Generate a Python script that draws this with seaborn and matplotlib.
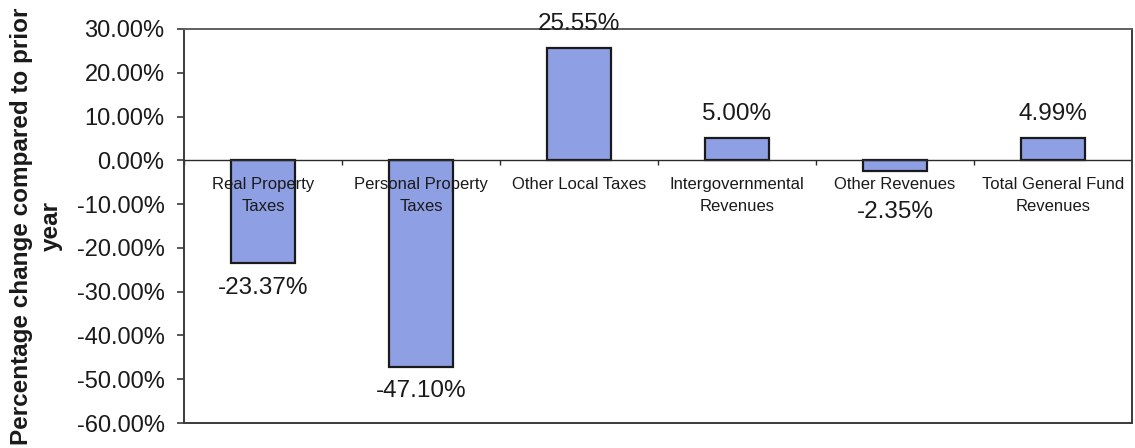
import matplotlib
matplotlib.use("Agg")
import matplotlib.pyplot as plt
from matplotlib.ticker import FixedLocator, FuncFormatter
import seaborn as sns
import pandas as pd

# Revenue categories and their percentage change versus the prior year
categories = [
    "Real Property\nTaxes",
    "Personal Property\nTaxes",
    "Other Local Taxes",
    "Intergovernmental\nRevenues",
    "Other Revenues",
    "Total General Fund\nRevenues",
]
pct_change = [-23.37, -47.10, 25.55, 5.00, -2.35, 4.99]
y_ticks = [30, 20, 10, 0, -10, -20, -30, -40, -50, -60]

sns.set_theme(style="white")
plt.rcParams["font.family"] = ["Liberation Sans", "DejaVu Sans"]

df = pd.DataFrame({"category": categories, "change": pct_change})

fig = plt.figure(figsize=(11.35, 4.48), dpi=100)
ax = fig.add_axes([0.1621, 0.0558, 0.9974 - 0.1621, 0.9353 - 0.0558])

sns.barplot(data=df, x="category", y="change", color="#8E9FE4",
            width=0.4, edgecolor="#1a1a1a", linewidth=1.6, saturation=1, ax=ax)

n = len(categories)
ax.set_xlim(-0.5, n - 0.5)
ax.set_ylim(min(y_ticks), max(y_ticks))

# Frame
for side in ["left", "right", "top", "bottom"]:
    ax.spines[side].set_visible(True)
    ax.spines[side].set_color("#3a3a3a")
    ax.spines[side].set_linewidth(1.4)
ax.spines["top"].set_color("#606060")

# Y axis in percent
ax.yaxis.set_major_locator(FixedLocator(y_ticks))
ax.yaxis.set_major_formatter(FuncFormatter(lambda v, p: f"{v:.2f}%"))
ax.tick_params(axis="y", which="major", direction="out", length=5, width=1.2,
               color="#3a3a3a", left=True, labelsize=17, pad=9, labelcolor="#1a1a1a")
ax.set_ylabel("Percentage change compared to prior\nyear", fontsize=17.5,
              fontweight="bold", color="#1a1a1a", labelpad=10, linespacing=1.35)

# Main x axis carries no ticks; the category axis sits on the zero line
ax.set_xlabel("")
ax.tick_params(axis="x", which="both", bottom=False, labelbottom=False)
ax.axhline(0, color="#2a2a2a", lw=1.0, zorder=1)

# Small boundary ticks between categories along the zero line
tick_len = (max(y_ticks) - min(y_ticks)) * 0.011
ax.vlines([i - 0.5 for i in range(n + 1)], -tick_len, 0, color="#2a2a2a", lw=1.0)

# Category names just below the zero line
for i, name in enumerate(categories):
    ax.annotate(name, xy=(i, 0), xytext=(0, -12), textcoords="offset points",
                ha="center", va="top", fontsize=12, color="#1a1a1a",
                linespacing=1.55, zorder=5)

# Value labels at the bar ends; a short negative bar gets its label pushed
# below the category name so the two do not collide
paddings = [10 if (v >= 0 or v < -10) else 22 for v in pct_change]
for bar, v, pad in zip(ax.containers[0], pct_change, paddings):
    x = bar.get_x() + bar.get_width() / 2
    ax.annotate(f"{v:.2f}%", xy=(x, v), xytext=(0, pad if v >= 0 else -pad),
                textcoords="offset points", ha="center",
                va="bottom" if v >= 0 else "top", fontsize=17.5, color="#1a1a1a")

fig.savefig("out.png", dpi=100)
